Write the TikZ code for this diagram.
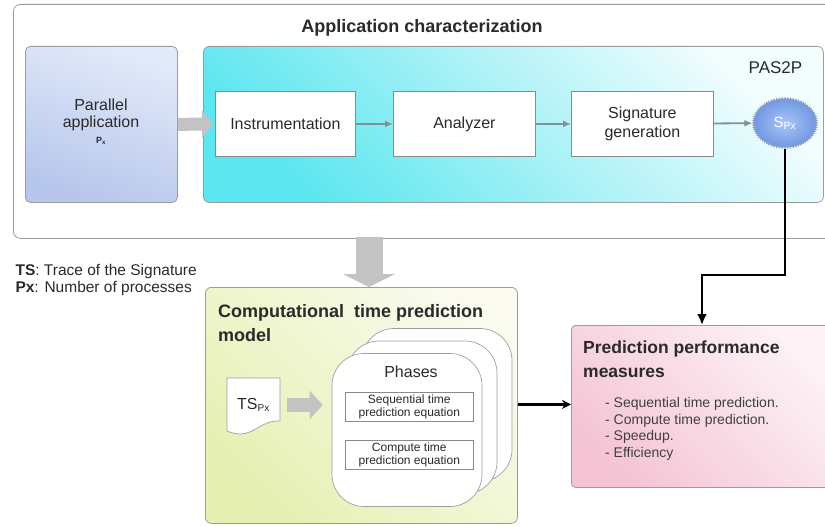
\documentclass[tikz,border=0pt]{standalone}
\usepackage{fontspec}
\setmainfont{Liberation Sans}
\usetikzlibrary{arrows.meta,shapes.geometric}

\definecolor{txt}{HTML}{2A2A2A}
\definecolor{frame}{HTML}{9C9C9C}
\definecolor{boxline}{HTML}{8A8A8A}
\definecolor{flowgray}{HTML}{7E9298}
\definecolor{blockgray}{HTML}{C3C3C3}
\definecolor{appTop}{HTML}{E2EAF9}
\definecolor{appBot}{HTML}{B6C6EC}
\definecolor{pasTop}{HTML}{F2FDFE}
\definecolor{pasBot}{HTML}{5CE6EF}
\definecolor{cmTop}{HTML}{FAFBEE}
\definecolor{cmBot}{HTML}{E6F0B2}
\definecolor{pmTop}{HTML}{FDF2F6}
\definecolor{pmBot}{HTML}{F4C4D5}
\definecolor{gearIn}{HTML}{A9C5F6}
\definecolor{gearOut}{HTML}{6E96E3}
\definecolor{gearEdge}{HTML}{8A9CBE}
\definecolor{stackline}{HTML}{A0A0A0}

\newcommand{\fsz}[2]{\fontsize{#1}{#2}\selectfont}

\begin{document}
\begin{tikzpicture}[x=1pt, y=-1pt,
  every node/.style={text=txt},
  container/.style={draw=frame, line width=0.8pt, rounded corners=7pt,
    anchor=north west, inner sep=0pt},
  procbox/.style={draw=boxline, fill=white, line width=0.8pt, anchor=north west,
    minimum height=65pt, align=center, font=\fsz{16}{19}},
  eqbox/.style={draw=boxline, fill=white, line width=0.6pt, anchor=north west,
    minimum width=128pt, minimum height=29pt, inner sep=0pt, align=center,
    font=\fsz{12}{13.5}},
  phasecard/.style={draw=stackline, fill=white, line width=0.7pt,
    rounded corners=32pt, minimum width=150pt, minimum height=153pt},
  flow/.style={draw=flowgray, line width=1.8pt, -{Latex[length=8pt,width=7pt]}},
  strongflow/.style={draw=black, line width=2.6pt, -{Latex[length=11pt,width=10pt]}},
]
\useasboundingbox (0,0) rectangle (825,527);

% ---------- application characterization ----------
\node[container, fill=white, minimum width=835pt, minimum height=234pt] (appchar) at (13,4) {};
\node[font=\fsz{18}{20}\bfseries] (apptitle) at (422,28) {Application characterization};

\node[container, rounded corners=5pt, top color=appTop, bottom color=appBot, shading angle=-20,
      minimum width=152pt, minimum height=156pt] (papp) at (25,46) {};
\node[align=center, font=\fsz{16}{17}] (papptext) at (101,122)
  {Parallel\\application\\[-1pt]{\fsz{9}{10}\bfseries P\textsubscript{x}}};

\node[container, rounded corners=6pt, top color=pasTop, bottom color=pasBot, shading angle=-45,
      minimum width=620pt, minimum height=156pt] (pas) at (203,46) {};
\node[font=\fsz{17}{19}] (pastitle) at (775.5,68) {PAS2P};

\node[procbox, minimum width=140pt] (instr) at (215,91) {Instrumentation};
\node[procbox, minimum width=142pt] (anal) at (393,91) {Analyzer};
\node[procbox, minimum width=142pt] (sig) at (571,91) {Signature\\generation};

% signature gear
\shadedraw[draw=gearEdge, line width=0.6pt, inner color=gearIn, outer color=gearOut]
  plot[samples at={0,1,...,143}, variable=\k]
  ({785+(32.5-2.4*mod(\k,2))*cos(\k*2.5)}, {123+(25.5-2.4*mod(\k,2))*sin(\k*2.5)}) -- cycle;
\node[ellipse, minimum width=65pt, minimum height=51pt, inner sep=0pt,
      text=white, font=\fsz{15}{16}] (sp) at (785,123) {S\textsubscript{Px}};

\draw[line width=13pt, draw=blockgray, -{Triangle[length=11pt,width=27pt]}]
  (papp.east) -- ([xshift=-2pt]instr.west);
\draw[flow] (instr) -- (anal);
\draw[flow] (anal) -- (sig);
\draw[flow] (sig) -- (sp);

% ---------- legend ----------
\node[anchor=west, font=\fsz{15.5}{17}] (legts) at (12,271) {\textbf{TS}: Trace of the Signature};
\node[anchor=west, font=\fsz{15.5}{17}] (legpx) at (12,288) {\textbf{Px}: Number of processes};

% ---------- computational time prediction model ----------
\node[container, rounded corners=6pt, top color=cmTop, bottom color=cmBot, shading angle=-45,
      minimum width=312pt, minimum height=236pt] (cm) at (205,287) {};
\node[anchor=north west, align=left, inner sep=0pt, font=\fsz{18}{24}\bfseries] (cmtitle)
  at (218,304) {Computational\ \ time prediction\\model};

\draw[line width=27pt, draw=blockgray, -{Triangle[length=13pt,width=52pt]}]
  ([yshift=2pt]appchar.south -| 369,0) -- (cm.north -| 369,0);

% trace document
\draw[draw=stackline, fill=white, line width=0.7pt]
  (227,378) -- (280,378) -- (280,421)
  .. controls (262,420) and (255,434) .. (240,434)
  .. controls (234,434) and (230,432) .. (227,431) -- cycle;
\node[minimum width=53pt, minimum height=55pt, inner sep=0pt, font=\fsz{16}{17}] (tsdoc)
  at (253.5,405) {TS\textsubscript{\fsz{10}{10}Px}};

% stacked phase cards
\node[phasecard] (ph3) at (437,405) {};
\node[phasecard] (ph2) at (422,417.5) {};
\node[phasecard] (ph1) at (407,430) {};
\node[font=\fsz{16}{18}] (phases) at (411,372) {Phases};
\node[eqbox] (seqeq) at (345,392) {Sequential time\\prediction equation};
\node[eqbox] (compeq) at (345,440) {Compute time\\prediction equation};

\draw[line width=14pt, draw=blockgray, -{Triangle[length=13pt,width=28pt]},
      shorten <=7pt, shorten >=9pt] (tsdoc.east) -- (tsdoc.east -| ph1.west);

% ---------- prediction performance measures ----------
\node[container, rounded corners=4pt, top color=pmTop, bottom color=pmBot, shading angle=-45,
      minimum width=262pt, minimum height=162pt] (pm) at (571,325) {};
\node[anchor=north west, align=left, inner sep=0pt, font=\fsz{17.5}{24}\bfseries] (pmtitle)
  at (583,341) {Prediction performance\\measures};
\node[anchor=north west, align=left, inner sep=0pt, font=\fsz{14}{16.7}, text=black!75] (pmlist)
  at (605,397) {- Sequential time prediction.\\- Compute time prediction.\\- Speedup.\\- Efficiency};

% ---------- result flows ----------
\draw[strongflow] (sp.south) -- (sp.south |- 0,275) -| (702,0 |- pm.north);
\draw[draw=black, line width=2.4pt, -{Stealth[length=9pt,width=9pt]}]
  ([yshift=1pt]cm.east) -- ([yshift=1pt]cm.east -| pm.west);

\end{tikzpicture}
\end{document}
